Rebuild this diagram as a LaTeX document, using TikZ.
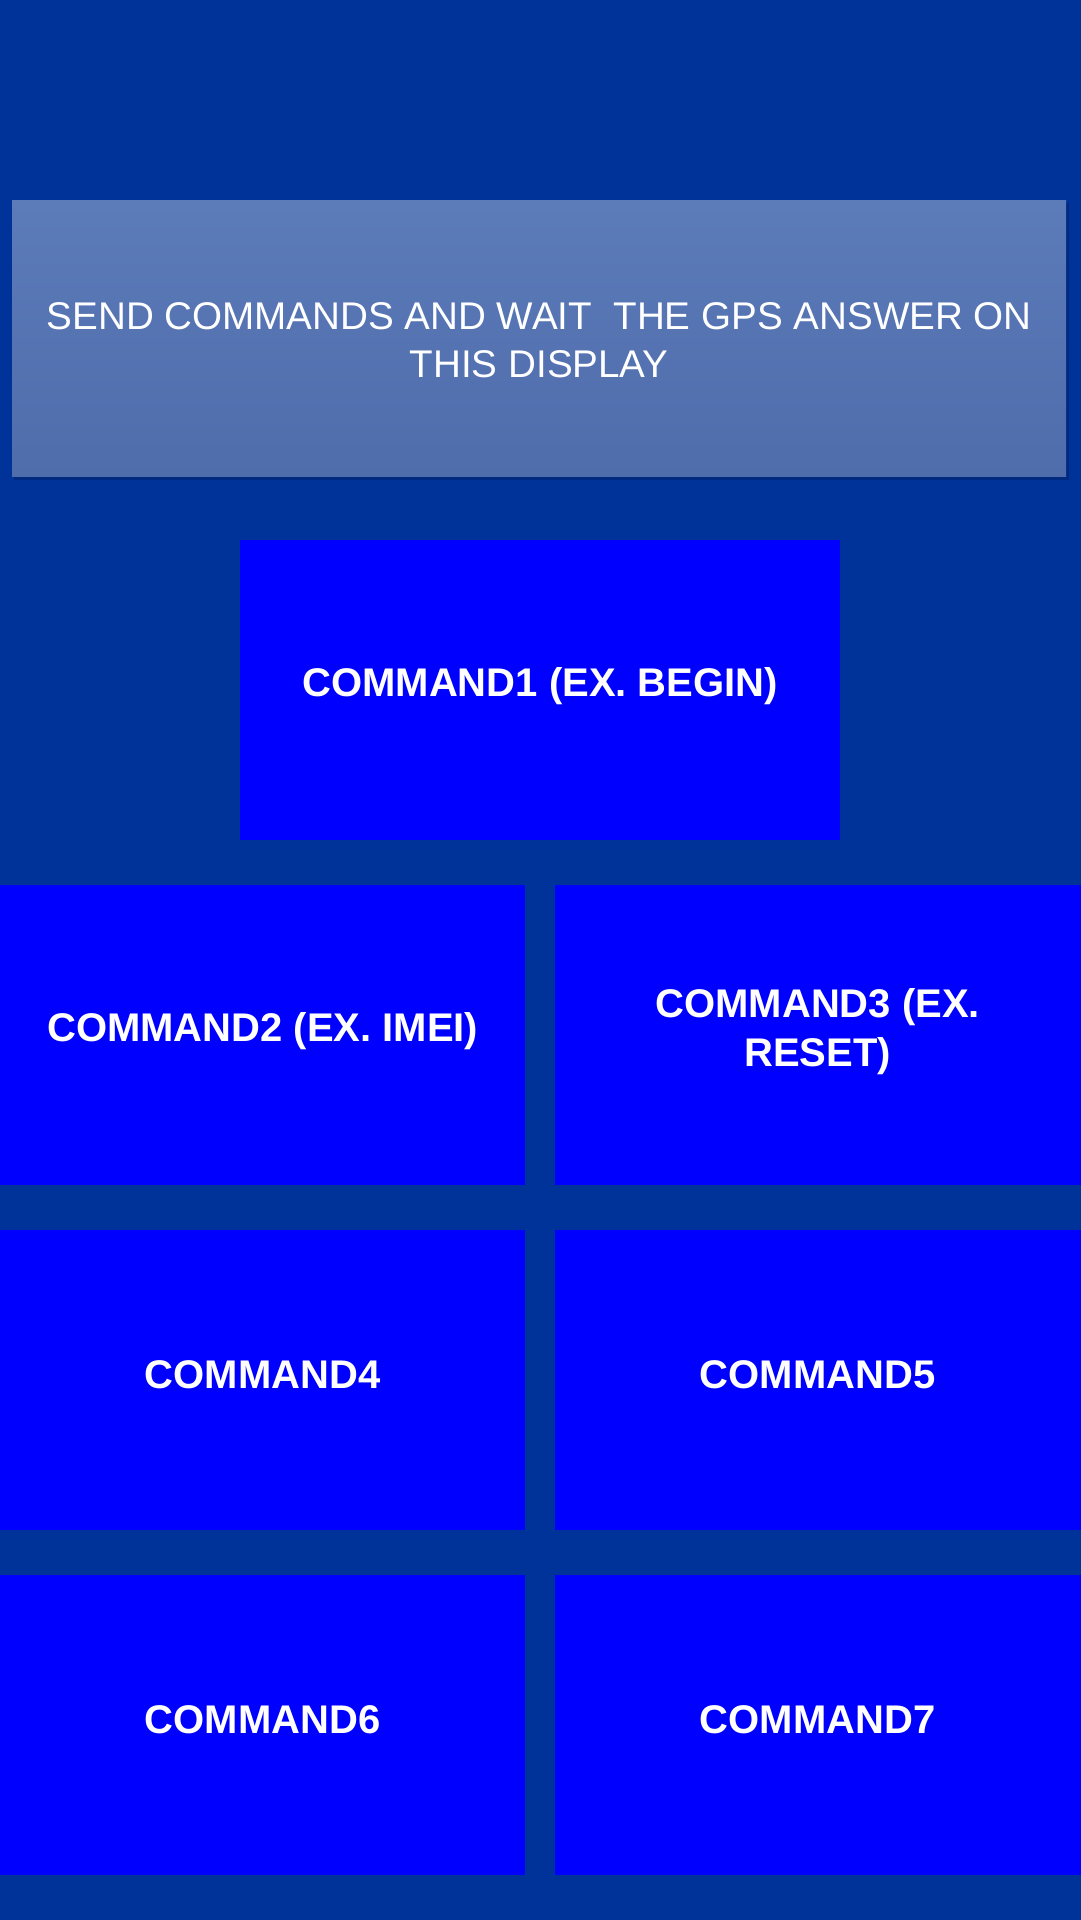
\documentclass[tikz,border=0pt]{standalone}
\usepackage{fontspec}
\setmainfont{Liberation Sans}
\definecolor{bgblue}{RGB}{0,51,153}
\definecolor{btnblue}{RGB}{0,0,255}
\definecolor{paneltop}{RGB}{92,123,185}
\definecolor{panelbot}{RGB}{79,108,171}
\definecolor{panelshadow}{RGB}{0,36,110}
\tikzset{
  btn/.style={fill=btnblue, draw=none, anchor=north west, inner sep=0pt,
    minimum width=#1, minimum height=300pt},
  btntext/.style={text=white, font=\fontsize{40}{49}\selectfont\bfseries,
    align=center, inner sep=0pt},
  paneltext/.style={text=white, font=\fontsize{38.6}{48}\selectfont,
    align=center, inner sep=0pt}
}
\begin{document}
\begin{tikzpicture}[x=1pt,y=-1pt]
  \useasboundingbox (0,0) rectangle (1080,1920);
  \fill[bgblue] (-6,-6) rectangle (1086,1926);
  % display panel
  \fill[panelshadow, opacity=0.6] (14,203) rectangle (1069,480);
  \shade[top color=paneltop, bottom color=panelbot] (12,200) rectangle (1066,476);
  \node[anchor=north west, minimum width=1054pt, minimum height=276pt, inner sep=0pt] (panel) at (12,200) {};
  \node[paneltext] (ptext) at ([yshift=-2pt]panel.center) {SEND COMMANDS AND WAIT\ \ THE GPS ANSWER ON\\THIS DISPLAY};
  % buttons
  \node[btn=600pt] (c1) at (240,540) {};
  \node[btn=531pt] (c2) at (-6,885) {};
  \node[btn=531pt] (c3) at (555,885) {};
  \node[btn=531pt] (c4) at (-6,1230) {};
  \node[btn=531pt] (c5) at (555,1230) {};
  \node[btn=531pt] (c6) at (-6,1575) {};
  \node[btn=531pt] (c7) at (555,1575) {};
  \node[btntext] (t1) at ([yshift=4pt]c1.center) {COMMAND1 (EX. BEGIN)};
  \node[btntext] (t2) at ([xshift=3pt,yshift=4pt]c2.center) {COMMAND2 (EX. IMEI)};
  \node[btntext] (t3) at ([xshift=-3pt,yshift=4pt]c3.center) {COMMAND3 (EX.\\RESET)};
  \node[btntext] (t4) at ([xshift=3pt,yshift=5pt]c4.center) {COMMAND4};
  \node[btntext] (t5) at ([xshift=-3pt,yshift=5pt]c5.center) {COMMAND5};
  \node[btntext] (t6) at ([xshift=3pt,yshift=5pt]c6.center) {COMMAND6};
  \node[btntext] (t7) at ([xshift=-3pt,yshift=5pt]c7.center) {COMMAND7};
\end{tikzpicture}
\end{document}
